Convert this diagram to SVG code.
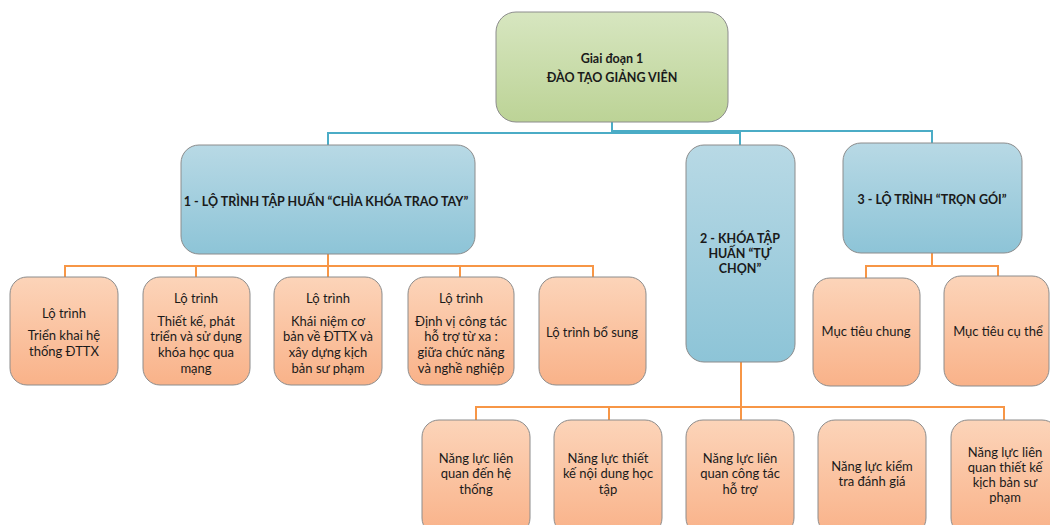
<svg xmlns="http://www.w3.org/2000/svg" width="1050" height="525" viewBox="0 0 1050 525">
  <defs>
    <linearGradient id="gGreen" x1="0" y1="0" x2="0" y2="1">
      <stop offset="0" stop-color="#d7e6c0"/>
      <stop offset="1" stop-color="#bcd396"/>
    </linearGradient>
    <linearGradient id="gBlue" x1="0" y1="0" x2="0" y2="1">
      <stop offset="0" stop-color="#b8d9e5"/>
      <stop offset="1" stop-color="#8dc4d7"/>
    </linearGradient>
    <linearGradient id="gOrange" x1="0" y1="0" x2="0" y2="1">
      <stop offset="0" stop-color="#fcd4b9"/>
      <stop offset="1" stop-color="#f9b289"/>
    </linearGradient>
  </defs>
  <style>
    .box { stroke: #8c8c8c; stroke-width: 1; }
    .green { fill: url(#gGreen); }
    .blue { fill: url(#gBlue); }
    .orange { fill: url(#gOrange); }
    .t { font-family: Lato, "Liberation Sans", sans-serif; font-size: 13px; fill: #1a1a1a; text-anchor: middle; dominant-baseline: central; }
    .b { font-weight: bold; font-size: 12.5px; }
    .lb { fill: none; stroke: #4bacc6; stroke-width: 2; }
    .lo { fill: none; stroke: #f79646; stroke-width: 2; }
  </style>

  <!-- connectors -->
  <g id="connectors">
    <path class="lb" d="M612,122 V133 H328 V145"/>
    <path class="lb" d="M612,133 H740 V145"/>
    <path class="lb" d="M612,131 H932 V143"/>
    <path class="lo" d="M328,254 V266 M65,277 V266 H593 V277 M196,266 V277 M328,266 V277 M460,266 V277"/>
    <path class="lo" d="M932,253 V266 M866,278 V266 H998 V276"/>
    <path class="lo" d="M741,362 V420 M476,420 V407 H1004 V420 M609,407 V420"/>
  </g>

  <!-- phase -->
  <g id="phase1">
    <rect class="box green" x="496" y="12" width="232" height="110" rx="20"/>
    <text class="t b" x="612" y="58">Giai đoạn 1</text>
    <text class="t b" x="612" y="77">ĐÀO TẠO GIẢNG VIÊN</text>
  </g>

  <!-- level 1 -->
  <g id="route1">
    <rect class="box blue" x="181" y="145" width="294" height="109" rx="18"/>
    <text class="t b" x="326" y="201">1 - LỘ TRÌNH TẬP HUẤN “CHÌA KHÓA TRAO TAY”</text>
  </g>
  <g id="course2">
    <rect class="box blue" x="686" y="145" width="109" height="217" rx="18"/>
    <text class="t b" x="740" y="238">2 - KHÓA TẬP</text>
    <text class="t b" x="740" y="253">HUẤN “TỰ</text>
    <text class="t b" x="740" y="268">CHỌN”</text>
  </g>
  <g id="route3">
    <rect class="box blue" x="843" y="143" width="179" height="110" rx="18"/>
    <text class="t b" x="932" y="199">3 - LỘ TRÌNH “TRỌN GÓI”</text>
  </g>

  <!-- route 1 children -->
  <g id="r1a">
    <rect class="box orange" x="10" y="277" width="108" height="108" rx="17"/>
    <text class="t" x="64" y="313">Lộ trình</text>
    <text class="t" x="64" y="335">Triển khai hệ</text>
    <text class="t" x="64" y="351">thống ĐTTX</text>
  </g>
  <g id="r1b">
    <rect class="box orange" x="143" y="277" width="107" height="108" rx="17"/>
    <text class="t" x="196" y="298">Lộ trình</text>
    <text class="t" x="196" y="321">Thiết kế, phát</text>
    <text class="t" x="196" y="336">triển và sử dụng</text>
    <text class="t" x="196" y="352">khóa học qua</text>
    <text class="t" x="196" y="368">mạng</text>
  </g>
  <g id="r1c">
    <rect class="box orange" x="274" y="277" width="108" height="108" rx="17"/>
    <text class="t" x="328" y="298">Lộ trình</text>
    <text class="t" x="328" y="321">Khái niệm cơ</text>
    <text class="t" x="328" y="336">bản về ĐTTX và</text>
    <text class="t" x="328" y="352">xây dựng kịch</text>
    <text class="t" x="328" y="368">bản sư phạm</text>
  </g>
  <g id="r1d">
    <rect class="box orange" x="408" y="277" width="106" height="108" rx="17"/>
    <text class="t" x="461" y="298">Lộ trình</text>
    <text class="t" x="461" y="321">Định vị công tác</text>
    <text class="t" x="461" y="336">hỗ trợ từ xa :</text>
    <text class="t" x="461" y="352">giữa chức năng</text>
    <text class="t" x="461" y="368">và nghề nghiệp</text>
  </g>
  <g id="r1e">
    <rect class="box orange" x="539" y="277" width="107" height="108" rx="17"/>
    <text class="t" x="592" y="332">Lộ trình bổ sung</text>
  </g>

  <!-- route 3 children -->
  <g id="r3a">
    <rect class="box orange" x="813" y="278" width="107" height="108" rx="17"/>
    <text class="t" x="866" y="331">Mục tiêu chung</text>
  </g>
  <g id="r3b">
    <rect class="box orange" x="944" y="276" width="105" height="110" rx="17"/>
    <text class="t" x="998" y="331">Mục tiêu cụ thể</text>
  </g>

  <!-- course 2 children -->
  <g id="c2a">
    <rect class="box orange" x="422" y="420" width="108" height="115" rx="17"/>
    <text class="t" x="476" y="458">Năng lực liên</text>
    <text class="t" x="476" y="473">quan đến hệ</text>
    <text class="t" x="476" y="489">thống</text>
  </g>
  <g id="c2b">
    <rect class="box orange" x="554" y="420" width="108" height="115" rx="17"/>
    <text class="t" x="608" y="458">Năng lực thiết</text>
    <text class="t" x="608" y="473">kế nội dung học</text>
    <text class="t" x="608" y="489">tập</text>
  </g>
  <g id="c2c">
    <rect class="box orange" x="686" y="420" width="108" height="115" rx="17"/>
    <text class="t" x="740" y="458">Năng lực liên</text>
    <text class="t" x="740" y="473">quan công tác</text>
    <text class="t" x="740" y="489">hỗ trợ</text>
  </g>
  <g id="c2d">
    <rect class="box orange" x="818" y="420" width="108" height="115" rx="17"/>
    <text class="t" x="872" y="466">Năng lực kiểm</text>
    <text class="t" x="872" y="481">tra đánh giá</text>
  </g>
  <g id="c2e">
    <rect class="box orange" x="951" y="420" width="108" height="115" rx="17"/>
    <text class="t" x="1005" y="452">Năng lực liên</text>
    <text class="t" x="1005" y="467">quan thiết kế</text>
    <text class="t" x="1005" y="482">kịch bản sư</text>
    <text class="t" x="1005" y="497">phạm</text>
  </g>
</svg>
